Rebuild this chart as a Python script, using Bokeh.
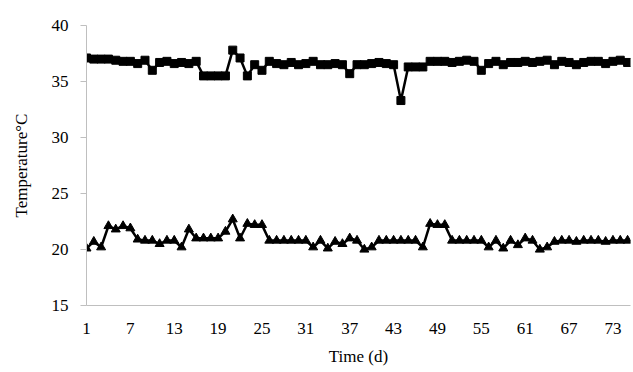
from bokeh.plotting import figure
from bokeh.models import Range1d, FixedTicker, ColumnDataSource
from bokeh.embed import file_html
from bokeh.resources import INLINE

days = list(range(1, 76))

body_temp = [37.1, 37.0, 37.0, 37.0, 36.9, 36.8, 36.8, 36.6, 36.9,
             36.0,
             36.7, 36.8, 36.6, 36.7, 36.6, 36.8,
             35.5, 35.5, 35.5, 35.5,
             37.8, 37.1, 35.5, 36.5, 36.0,
             36.8, 36.6, 36.5, 36.7, 36.5, 36.6, 36.8, 36.5, 36.5, 36.6, 36.5,
             35.7,
             36.5, 36.5, 36.6, 36.7, 36.6, 36.5,
             33.3,
             36.3, 36.3, 36.3,
             36.8, 36.8, 36.8, 36.7, 36.8, 36.9, 36.8,
             36.0,
             36.6, 36.8, 36.5, 36.7, 36.7, 36.8, 36.7, 36.8, 36.9, 36.5,
             36.8, 36.7, 36.5, 36.7, 36.8, 36.8, 36.6, 36.8, 36.9, 36.7]

room_temp = [20.1, 20.7, 20.2, 22.1, 21.8, 22.1, 21.9, 20.9, 20.8, 20.8,
             20.5, 20.8, 20.8, 20.2, 21.8, 21.0, 21.0, 21.0, 21.0, 21.6,
             22.7, 21.0, 22.3, 22.2, 22.2, 20.8, 20.8, 20.8, 20.8, 20.8,
             20.8, 20.2, 20.8, 20.1, 20.7, 20.5, 21.0, 20.8, 20.0, 20.2,
             20.8, 20.8, 20.8, 20.8, 20.8, 20.8, 20.2, 22.3, 22.2, 22.2,
             20.8, 20.8, 20.8, 20.8, 20.8, 20.2, 20.8, 20.1, 20.8, 20.4,
             21.0, 20.8, 20.0, 20.2, 20.7, 20.8, 20.8, 20.7, 20.8, 20.8,
             20.8, 20.7, 20.8, 20.8, 20.8]

x_ticks = [1, 7, 13, 19, 25, 31, 37, 43, 49, 55, 61, 67, 73]
y_ticks = [15, 20, 25, 30, 35, 40]

src = ColumnDataSource(dict(day=days, body=body_temp, room=room_temp))

FONT = "Liberation Serif"

p = figure(width=632, height=368, output_backend="svg", toolbar_location=None,
           x_range=Range1d(1, 75.4), y_range=Range1d(15, 40),
           min_border_left=86, min_border_right=2, min_border_top=25,
           min_border_bottom=10)
p.outline_line_color = None
p.grid.visible = False
p.background_fill_color = "white"

p.line("day", "body", source=src, line_color="black", line_width=2.5)
p.scatter("day", "body", source=src, marker="square", size=8,
          fill_color="black", line_color="black")
p.line("day", "room", source=src, line_color="black", line_width=2.5)
p.scatter("day", "room", source=src, marker="triangle", size=9,
          fill_color="black", line_color="black")

ax = p.xaxis[0]
ax.ticker = FixedTicker(ticks=x_ticks)
ax.axis_line_color = "#bfbfbf"
ax.major_tick_line_color = None
ax.minor_tick_line_color = None
ax.major_tick_out = 0
ax.major_tick_in = 0
ax.major_label_standoff = 17
ax.major_label_text_font = FONT
ax.major_label_text_font_size = "17px"
ax.major_label_text_color = "black"
ax.axis_label = "Time (d)"
ax.axis_label_text_font = FONT
ax.axis_label_text_font_size = "17px"
ax.axis_label_text_font_style = "normal"
ax.axis_label_text_color = "black"
ax.axis_label_standoff = 10

ay = p.yaxis[0]
ay.ticker = FixedTicker(ticks=y_ticks)
ay.axis_line_color = "#bfbfbf"
ay.major_tick_line_color = "#bfbfbf"
ay.minor_tick_line_color = None
ay.major_tick_out = 6
ay.major_tick_in = 0
ay.major_label_standoff = 12
ay.major_label_text_font = FONT
ay.major_label_text_font_size = "17px"
ay.major_label_text_color = "black"
ay.axis_label = "Temperature\u00b0C"
ay.axis_label_text_font = FONT
ay.axis_label_text_font_size = "17px"
ay.axis_label_text_font_style = "normal"
ay.axis_label_text_color = "black"
ay.axis_label_standoff = 18

open("out.html", "w").write(file_html(p, INLINE))
